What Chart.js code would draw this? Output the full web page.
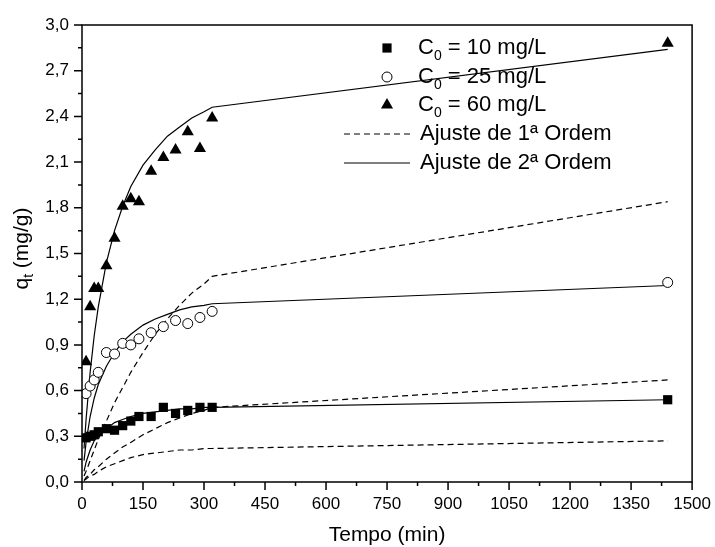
<!DOCTYPE html>
<html>
<head>
<meta charset="utf-8">
<script src="https://cdn.jsdelivr.net/npm/chart.js@4.4.1/dist/chart.umd.min.js"></script>
<style>
  html, body { margin: 0; padding: 0; background: #fff; }
</style>
</head>
<body>
<canvas id="kinetics" width="715" height="547"></canvas>
<script>
// Experimental data (time in min, qt in mg/g)
const tempo = [10, 20, 30, 40, 60, 80, 100, 120, 140, 170, 200, 230, 260, 290, 320, 1440];
const qt10 = [0.29, 0.30, 0.31, 0.33, 0.35, 0.34, 0.37, 0.40, 0.43, 0.43, 0.49, 0.45, 0.47, 0.49, 0.49, 0.54];
const qt25 = [0.58, 0.63, 0.67, 0.72, 0.85, 0.84, 0.91, 0.90, 0.94, 0.98, 1.02, 1.06, 1.04, 1.08, 1.12, 1.31];
const qt60 = [0.79, 1.15, 1.27, 1.27, 1.42, 1.60, 1.81, 1.86, 1.84, 2.04, 2.13, 2.18, 2.30, 2.19, 2.39, 2.88];

// Fitted curves
const fitTempo = [5, 10, 20, 30, 40, 60, 80, 100, 120, 150, 180, 210, 240, 270, 300, 320, 1440];
const ordem1_10 = [0.01, 0.02, 0.04, 0.05, 0.07, 0.10, 0.12, 0.14, 0.16, 0.18, 0.19, 0.20, 0.21, 0.21, 0.22, 0.22, 0.27];
const ordem1_25 = [0.01, 0.03, 0.05, 0.08, 0.10, 0.15, 0.19, 0.23, 0.26, 0.31, 0.35, 0.39, 0.42, 0.45, 0.47, 0.49, 0.67];
const ordem1_60 = [0.04, 0.07, 0.14, 0.21, 0.28, 0.40, 0.52, 0.62, 0.72, 0.85, 0.97, 1.07, 1.16, 1.24, 1.30, 1.35, 1.84];
const ordem2_10 = [0.07, 0.13, 0.21, 0.27, 0.30, 0.35, 0.39, 0.41, 0.43, 0.45, 0.46, 0.47, 0.48, 0.48, 0.49, 0.49, 0.54];
const ordem2_25 = [0.14, 0.26, 0.43, 0.55, 0.64, 0.76, 0.85, 0.92, 0.97, 1.03, 1.07, 1.10, 1.13, 1.15, 1.16, 1.17, 1.29];
const ordem2_60 = [0.22, 0.41, 0.72, 0.96, 1.15, 1.44, 1.65, 1.81, 1.94, 2.08, 2.18, 2.27, 2.33, 2.39, 2.43, 2.46, 2.84];

const xTicks = [0, 150, 300, 450, 600, 750, 900, 1050, 1200, 1350, 1500];
const yTicks = [0, 0.3, 0.6, 0.9, 1.2, 1.5, 1.8, 2.1, 2.4, 2.7, 3.0];

const legendItems = [
    { sub: '0', label: ' = 10 mg/L', marker: 'rect' },
    { sub: '0', label: ' = 25 mg/L', marker: 'circle' },
    { sub: '0', label: ' = 60 mg/L', marker: 'triangle' },
    { label: 'Ajuste de 1ª Ordem', dash: [6, 4] },
    { label: 'Ajuste de 2ª Ordem', dash: [] }
];

const FONT = "'Liberation Sans', Arial, sans-serif";
const pts = (xs, ys) => xs.map((x, i) => ({ x, y: ys[i] }));

const markerStyle = {
    rect: { pointStyle: 'rect', pointRadius: 6.5, pointBackgroundColor: '#000', pointBorderColor: '#000', pointBorderWidth: 0 },
    circle: { pointStyle: 'circle', pointRadius: 5, pointBackgroundColor: '#fff', pointBorderColor: '#000', pointBorderWidth: 1 },
    triangle: { pointStyle: 'triangle', pointRadius: 7, pointBackgroundColor: '#000', pointBorderColor: '#000', pointBorderWidth: 0 }
};

function markerSet(label, ys, style) {
    return Object.assign({ label, data: pts(tempo, ys), showLine: false, order: 0 }, markerStyle[style]);
}

function fitSet(ys, dash) {
    return {
        data: pts(fitTempo, ys),
        showLine: true,
        borderColor: '#000',
        borderWidth: 1.2,
        borderDash: dash,
        pointRadius: 0,
        tension: 0,
        order: 1
    };
}

// frame, tick marks, y title and legend
const decorations = {
    id: 'decorations',
    afterDraw(chart) {
        const { ctx, chartArea: a, scales: { x, y } } = chart;
        ctx.save();
        ctx.strokeStyle = '#000';
        ctx.lineWidth = 1.5;
        ctx.strokeRect(a.left, a.top, a.right - a.left, a.bottom - a.top);

        ctx.beginPath();
        xTicks.forEach((v, i) => {
            const px = x.getPixelForValue(v);
            ctx.moveTo(px, a.bottom); ctx.lineTo(px, a.bottom + 8);
            if (i < xTicks.length - 1) {
                const mx = x.getPixelForValue((v + xTicks[i + 1]) / 2);
                ctx.moveTo(mx, a.bottom); ctx.lineTo(mx, a.bottom + 4);
            }
        });
        yTicks.forEach((v, i) => {
            const py = y.getPixelForValue(v);
            ctx.moveTo(a.left, py); ctx.lineTo(a.left - 8, py);
            if (i < yTicks.length - 1) {
                const my = y.getPixelForValue((v + yTicks[i + 1]) / 2);
                ctx.moveTo(a.left, my); ctx.lineTo(a.left - 4, my);
            }
        });
        ctx.stroke();

        // y axis title: q_t (mg/g)
        ctx.fillStyle = '#000';
        ctx.translate(22, (a.top + a.bottom) / 2 - 5);
        ctx.rotate(-Math.PI / 2);
        ctx.textBaseline = 'middle';
        ctx.font = '21px ' + FONT;
        const wq = ctx.measureText('q').width;
        const wRest = ctx.measureText(' (mg/g)').width;
        ctx.font = '14px ' + FONT;
        const wt = ctx.measureText('t').width;
        let tx = -(wq + wt + wRest) / 2;
        ctx.font = '21px ' + FONT;
        ctx.fillText('q', tx, 0);
        ctx.font = '14px ' + FONT;
        ctx.fillText('t', tx + wq, 7);
        ctx.font = '21px ' + FONT;
        ctx.fillText(' (mg/g)', tx + wq + wt, 0);
        ctx.setTransform(1, 0, 0, 1, 0, 0);

        // legend
        const rowY = [48, 77, 105, 134, 163];
        legendItems.forEach((item, i) => {
            const ly = rowY[i];
            ctx.fillStyle = '#000';
            ctx.textBaseline = 'middle';
            if (item.marker) {
                const s = markerStyle[item.marker];
                ctx.fillStyle = s.pointBackgroundColor;
                ctx.strokeStyle = s.pointBorderColor;
                ctx.lineWidth = s.pointBorderWidth;
                Chart.helpers.drawPoint(ctx, {
                    pointStyle: s.pointStyle, radius: s.pointRadius, rotation: 0, borderWidth: s.pointBorderWidth
                }, 387, ly);
                ctx.fillStyle = '#000';
                ctx.font = '22px ' + FONT;
                ctx.fillText('C', 418, ly);
                const wc = ctx.measureText('C').width;
                ctx.font = '14px ' + FONT;
                ctx.fillText(item.sub, 418 + wc, ly + 8);
                const ws = ctx.measureText(item.sub).width;
                ctx.font = '22px ' + FONT;
                ctx.fillText(item.label, 418 + wc + ws, ly);
            } else {
                ctx.strokeStyle = '#000';
                ctx.lineWidth = 1.2;
                ctx.setLineDash(item.dash);
                ctx.beginPath();
                ctx.moveTo(344, ly); ctx.lineTo(410, ly);
                ctx.stroke();
                ctx.setLineDash([]);
                ctx.font = '22px ' + FONT;
                ctx.fillText(item.label, 420, ly);
            }
        });
        ctx.restore();
    }
};

new Chart(document.getElementById('kinetics'), {
    type: 'scatter',
    data: {
        datasets: [
            markerSet('C0 = 10 mg/L', qt10, 'rect'),
            markerSet('C0 = 25 mg/L', qt25, 'circle'),
            markerSet('C0 = 60 mg/L', qt60, 'triangle'),
            fitSet(ordem1_10, [6, 4]),
            fitSet(ordem1_25, [6, 4]),
            fitSet(ordem1_60, [6, 4]),
            fitSet(ordem2_10, []),
            fitSet(ordem2_25, []),
            fitSet(ordem2_60, [])
        ]
    },
    options: {
        responsive: false,
        animation: false,
        devicePixelRatio: 1,
        layout: { padding: { top: 25, right: 21, left: 0, bottom: 0 } },
        plugins: { legend: { display: false }, tooltip: { enabled: false } },
        scales: {
            x: {
                type: 'linear',
                min: 0, max: 1500,
                afterBuildTicks: s => { s.ticks = xTicks.map(v => ({ value: v })); },
                afterFit: s => { s.height = 65; },
                grid: { display: false, drawTicks: true, tickLength: 8 },
                border: { display: false },
                ticks: {
                    color: '#000', padding: 4, maxRotation: 0, font: { size: 17, family: FONT },
                    callback: v => String(v)
                },
                title: { display: true, text: 'Tempo (min)', color: '#000', padding: { top: 0, bottom: 1 }, font: { size: 21, family: FONT, lineHeight: 1 } }
            },
            y: {
                type: 'linear',
                min: 0, max: 3,
                afterBuildTicks: s => { s.ticks = yTicks.map(v => ({ value: v })); },
                afterFit: s => { s.width = 82; },
                grid: { display: false, drawTicks: true, tickLength: 8 },
                border: { display: false },
                ticks: {
                    color: '#000', padding: 5, font: { size: 17, family: FONT },
                    callback: v => v.toFixed(1).replace('.', ',')
                }
            }
        }
    },
    plugins: [decorations]
});
</script>
</body>
</html>
